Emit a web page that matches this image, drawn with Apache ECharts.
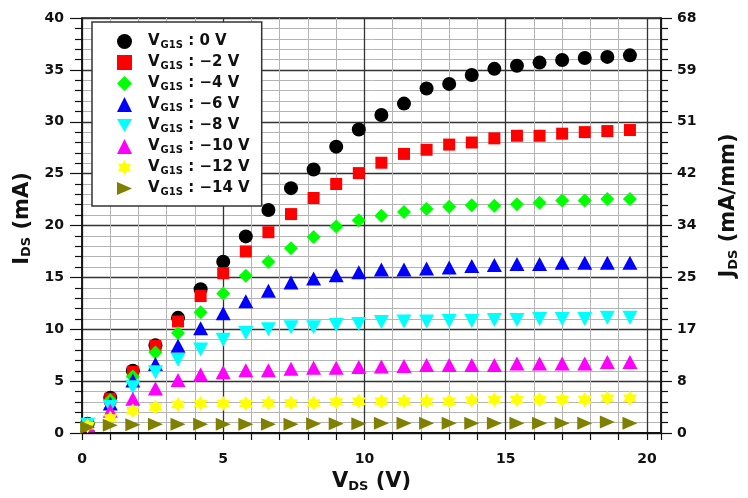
<!DOCTYPE html>
<html>
<head>
<meta charset="utf-8">
<script src="https://cdn.jsdelivr.net/npm/echarts@6/dist/echarts.min.js"></script>
<style>
html,body{margin:0;padding:0;background:#fff;}
#chart{width:748px;height:498px;}
</style>
</head>
<body>
<div id="chart"></div>
<script>
// V_DS values (V)
var vds = [0.2,1.0,1.8,2.6,3.4,4.2,5.0,5.8,6.6,7.4,8.2,9.0,9.8,10.6,11.4,12.2,13.0,13.8,14.6,15.4,16.2,17.0,17.8,18.6,19.4];
// gate voltages (legend labels)
var gateLabels = ["0 V","\u22122 V","\u22124 V","\u22126 V","\u22128 V","\u221210 V","\u221212 V","\u221214 V"];
// I_DS (mA) per gate voltage
var id_0   = [0.9,3.4,6.0,8.45,11.1,13.85,16.5,18.95,21.5,23.6,25.4,27.6,29.25,30.65,31.75,33.2,33.65,34.5,35.1,35.4,35.7,35.95,36.15,36.25,36.4];
var id_m2  = [0.85,3.3,5.9,8.4,10.75,13.2,15.4,17.5,19.35,21.1,22.65,24.0,25.05,26.05,26.9,27.3,27.8,28.0,28.4,28.65,28.65,28.85,29.0,29.1,29.2];
var id_m4  = [0.85,3.15,5.45,7.75,9.65,11.65,13.45,15.15,16.5,17.8,18.9,19.9,20.5,20.95,21.3,21.6,21.8,21.95,21.9,22.05,22.2,22.4,22.4,22.55,22.55];
var id_m6  = [0.8,2.85,5.05,6.65,8.4,10.1,11.55,12.7,13.7,14.5,14.9,15.2,15.5,15.75,15.75,15.85,15.95,16.1,16.2,16.3,16.3,16.4,16.4,16.4,16.4];
var id_m8  = [0.8,2.5,4.4,5.85,7.05,8.05,9.0,9.65,10.0,10.2,10.2,10.4,10.5,10.7,10.75,10.75,10.8,10.8,10.9,10.9,11.0,11.0,11.0,11.1,11.1];
var id_m10 = [0.75,2.15,3.3,4.3,5.1,5.65,5.85,6.05,6.05,6.2,6.3,6.3,6.35,6.4,6.45,6.55,6.55,6.55,6.55,6.7,6.7,6.7,6.7,6.85,6.85];
var id_m12 = [0.7,1.45,2.15,2.5,2.75,2.85,2.85,2.85,2.9,2.9,2.9,3.0,3.05,3.05,3.05,3.05,3.05,3.15,3.2,3.2,3.2,3.2,3.2,3.35,3.35];
var id_m14 = [0.55,0.75,0.8,0.85,0.85,0.85,0.85,0.85,0.85,0.85,0.9,0.9,0.9,0.93,0.93,0.93,0.93,0.93,0.93,0.95,0.95,0.95,0.95,1.05,0.95];
// axis ticks
var xTickLabels = [0,5,10,15,20];
var rightTickLabels = [0,8,17,25,34,42,51,59,68];

var allSeries = [id_0,id_m2,id_m4,id_m6,id_m8,id_m10,id_m12,id_m14];
var colors = ['#000000','#ff0000','#00ff00','#0000ff','#00ffff','#ff00ff','#ffff00','#808000'];
var STAR = 'path://M100,0 L128.87,50 L186.6,50 L157.7,100 L186.6,150 L128.87,150 L100,200 L71.13,150 L13.4,150 L42.3,100 L13.4,50 L71.13,50 Z';
var symbols = ['circle','rect','diamond','triangle','path://M0,0 L16,0 L8,14 Z','triangle',STAR,'path://M0,0 L15,6.5 L0,13 Z'];
var sizes = [14,12,[14,14],[15,14],[15,14],[15,14],[14,15],[15,13]];

var FONT = 'DejaVu Sans';
var chart = echarts.init(document.getElementById('chart'));

var series = allSeries.map(function(vals, k){
  return {
    name: gateLabels[k],
    type: 'scatter',
    xAxisIndex: 0, yAxisIndex: 0,
    symbol: symbols[k],
    symbolSize: sizes[k],
    itemStyle: {color: colors[k], opacity: 1},
    z: 3 + k,
    data: vds.map(function(x, i){ return [x, vals[i]]; })
  };
});

var legendIcons = [
  'circle',
  'path://M0,0 L12,0 L12,12 L0,12 Z',
  'diamond',
  'triangle',
  'path://M0,0 L16,0 L8,14 Z',
  'triangle',
  STAR,
  'path://M0,0 L15,6.5 L0,13 Z'
];

var option = {
  animation: false,
  textStyle: {fontFamily: FONT},
  grid: {left: 82, right: 82, top: 18, bottom: 58, show: true, borderColor: '#222', borderWidth: 1.5, backgroundColor: 'transparent'},
  legend: {
    orient: 'vertical',
    left: 92, top: 22,
    backgroundColor: '#fff',
    borderColor: '#333', borderWidth: 1.5,
    padding: [12, 12, 9, 25],
    itemWidth: 15, itemHeight: 15, itemGap: 5,
    formatter: function(name){ return '{v|V}{s|G1S}{t| : ' + name + '}'; },
    textStyle: {
      fontFamily: FONT,
      rich: {
        v: {fontSize: 15, fontWeight: 'bold', color: '#111', fontFamily: FONT, padding: [0,0,0,11]},
        s: {fontSize: 10, fontWeight: 'bold', color: '#111', fontFamily: FONT, padding: [7,0,0,1]},
        t: {fontSize: 15, fontWeight: 'bold', color: '#111', fontFamily: FONT}
      }
    },
    data: gateLabels.map(function(n, k){
      return {name: n, icon: legendIcons[k], itemStyle: {color: colors[k]}};
    })
  },
  xAxis: [{
    type: 'value', min: 0, max: 20.5, interval: 1, position: 'bottom',
    axisLine: {show: true, onZero: false, lineStyle: {color: '#111', width: 2}},
    axisTick: {show: true, length: 7, lineStyle: {color: '#111', width: 1.2}},
    axisLabel: {
      margin: 19, fontSize: 14, fontWeight: 'bold', color: '#111', fontFamily: FONT,
      formatter: function(v){ return xTickLabels.indexOf(v) >= 0 ? String(v) : ''; }
    },
    splitLine: {show: true, lineStyle: {color: '#b4b4b4', width: 1}},
    name: '{a|V}{b|DS}{a| (V)}',
    nameLocation: 'middle', nameGap: 38,
    nameTextStyle: {
      rich: {
        a: {fontSize: 21, fontWeight: 'bold', color: '#111', fontFamily: FONT},
        b: {fontSize: 13, fontWeight: 'bold', color: '#111', fontFamily: FONT, padding: [9,0,0,0]}
      }
    }
  },{
    type: 'value', min: 0, max: 20.5, interval: 5, position: 'bottom',
    axisLine: {show: false}, axisTick: {show: false}, axisLabel: {show: false},
    splitLine: {show: true, lineStyle: {color: '#333', width: 1.3}}
  }],
  yAxis: [{
    type: 'value', min: 0, max: 40, interval: 5, position: 'left',
    axisLine: {show: true, onZero: false, lineStyle: {color: '#111', width: 1.5}},
    axisTick: {show: true, length: 12, lineStyle: {color: '#111', width: 1.2}},
    minorTick: {show: true, splitNumber: 5, length: 7, lineStyle: {color: '#111', width: 1.2}},
    axisLabel: {margin: 18, fontSize: 14, fontWeight: 'bold', color: '#111', fontFamily: FONT},
    splitLine: {show: true, lineStyle: {color: '#333', width: 1.3}},
    minorSplitLine: {show: true, lineStyle: {color: '#b4b4b4', width: 1}},
    name: '{a|I}{b|DS}{a| (mA)}',
    nameLocation: 'middle', nameGap: 45, nameRotate: 90,
    nameTextStyle: {
      padding: [0,0,0,14],
      rich: {
        a: {fontSize: 21, fontWeight: 'bold', color: '#111', fontFamily: FONT},
        b: {fontSize: 13, fontWeight: 'bold', color: '#111', fontFamily: FONT, padding: [9,0,0,0]}
      }
    }
  },{
    type: 'value', min: 0, max: 68, interval: 8.5, position: 'right',
    axisLine: {show: true, onZero: false, lineStyle: {color: '#111', width: 1.5}},
    axisTick: {show: true, length: 11, lineStyle: {color: '#111', width: 1.2}},
    minorTick: {show: true, splitNumber: 5, length: 7, lineStyle: {color: '#111', width: 1.2}},
    axisLabel: {
      margin: 16, fontSize: 14, fontWeight: 'bold', color: '#111', fontFamily: FONT,
      formatter: function(v){ return String(Math.floor(v)); }
    },
    splitLine: {show: false},
    name: '{a|J}{b|DS}{a| (mA/mm)}',
    nameLocation: 'middle', nameGap: 57, nameRotate: 90,
    nameTextStyle: {
      padding: [0,0,0,40],
      rich: {
        a: {fontSize: 21, fontWeight: 'bold', color: '#111', fontFamily: FONT},
        b: {fontSize: 13, fontWeight: 'bold', color: '#111', fontFamily: FONT, padding: [9,0,0,0]}
      }
    }
  }],
  series: series
};
chart.setOption(option);
</script>
</body>
</html>
